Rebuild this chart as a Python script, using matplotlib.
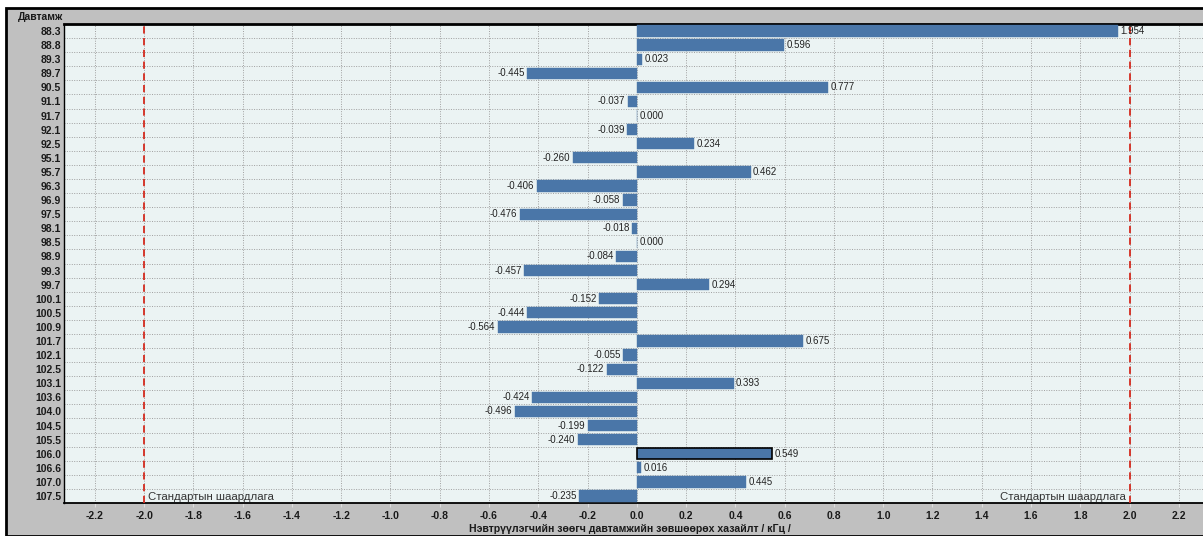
import matplotlib.pyplot as plt
from matplotlib.patches import Rectangle
import numpy as np

plt.rcParams['font.family'] = ['Liberation Sans', 'DejaVu Sans']

# frequencies (MHz) and carrier deviation (kHz)
freqs = ['88.3', '88.8', '89.3', '89.7', '90.5', '91.1', '91.7', '92.1', '92.5', '95.1',
         '95.7', '96.3', '96.9', '97.5', '98.1', '98.5', '98.9', '99.3', '99.7', '100.1',
         '100.5', '100.9', '101.7', '102.1', '102.5', '103.1', '103.6', '104.0', '104.5', '105.5',
         '106.0', '106.6', '107.0', '107.5']
deviation = [1.954, 0.596, 0.023, -0.445, 0.777, -0.037, 0.000, -0.039, 0.234, -0.260,
             0.462, -0.406, -0.058, -0.476, -0.018, 0.000, -0.084, -0.457, 0.294, -0.152,
             -0.444, -0.564, 0.675, -0.055, -0.122, 0.393, -0.424, -0.496, -0.199, -0.240,
             0.549, 0.016, 0.445, -0.235]
limit = 2.0
selected = '106.0'
xticks = np.round(np.arange(-2.2, 2.21, 0.2), 1)

fig = plt.figure(figsize=(12.03, 5.36), dpi=100)
fig.patch.set_facecolor('white')
# grey window frame
fig.patches.append(Rectangle((6 / 1203, 0), 1.0, 1 - 8 / 536, transform=fig.transFigure,
                             facecolor='#c0c0c0', edgecolor='black', linewidth=2, zorder=-10))

ax = fig.add_axes([64 / 1203, 33 / 536, 1 - 64 / 1203, (503 - 24) / 536])
ax.set_zorder(5)
ax.set_facecolor('#ebf3f3')

y = np.arange(len(freqs))
edges = ['black' if f == selected else '#4a76a8' for f in freqs]
ax.barh(y, deviation, height=0.8, color='#4a76a8', edgecolor=edges, linewidth=[1.2 if f == selected else 0.3 for f in freqs], zorder=3)

for yi, v in zip(y, deviation):
    if v >= 0:
        ax.text(v + 0.01, yi, f'{v:.3f}', ha='left', va='center', fontsize=7, color='#222222', zorder=5)
    else:
        ax.text(v - 0.01, yi, f'{v:.3f}', ha='right', va='center', fontsize=7, color='#222222', zorder=5)

# standard requirement lines
for s in (-limit, limit):
    ax.axvline(s, color='#d42a1e', linestyle=(0, (4, 2.5)), linewidth=1.3, zorder=4)
ax.text(-limit + 0.015, len(freqs) - 0.55, 'Стандартын шаардлага', ha='left', va='bottom', fontsize=8.2, color='#333333', zorder=5)
ax.text(limit - 0.015, len(freqs) - 0.55, 'Стандартын шаардлага', ha='right', va='bottom', fontsize=8.2, color='#333333', zorder=5)

ax.set_xlim(-2.325, 2.298)
ax.set_ylim(len(freqs) - 0.5, -0.5)
ax.set_xticks(xticks)
ax.set_xticklabels([f'{t:.1f}' for t in xticks], fontsize=7.5, fontweight='bold', color='#1a1a1a')
ax.set_yticks(y)
ax.set_yticklabels(freqs, fontsize=7.5, fontweight='bold', color='#1a1a1a')
ax.set_yticks(np.arange(len(freqs) - 1) + 0.5, minor=True)
ax.tick_params(axis='y', which='both', length=0, pad=2)
ax.tick_params(axis='x', length=3, color='#dddddd', pad=3)

ax.grid(True, axis='x', which='major', color='#a0a0a0', linestyle=(0, (1, 1.5)), linewidth=0.7, zorder=1)
ax.grid(True, axis='y', which='minor', color='#a0a0a0', linestyle=(0, (1, 1.5)), linewidth=0.7, zorder=1)

ax.spines['top'].set_linewidth(2)
ax.spines['left'].set_linewidth(1)
ax.spines['bottom'].set_linewidth(1.3)
ax.spines['right'].set_visible(False)

fig.text(40 / 1203, 1 - 17 / 536, 'Давтамж', ha='center', va='center', fontsize=7.5, fontweight='bold', color='#1a1a1a')
fig.text(630 / 1203, 1 - 529 / 536, 'Нэвтрүүлэгчийн зөөгч давтамжийн зөвшөөрөх хазайлт / кГц /',
         ha='center', va='center', fontsize=7.6, fontweight='bold', color='#1a1a1a')

plt.savefig('out.png', dpi=100)
